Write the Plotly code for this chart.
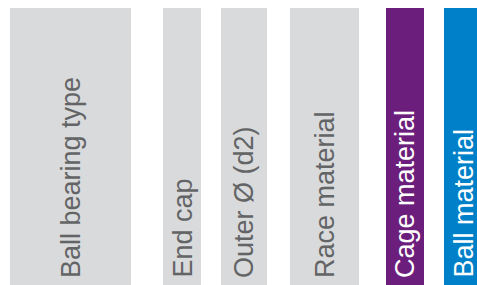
import plotly.graph_objects as go

# ---- data ----
categories = ["Ball bearing type", "End cap", "Outer Ø (d2)", "Race material", "Cage material", "Ball material"]
values = [1, 1, 1, 1, 1, 1]

# ---- layout / style ----
col_left = [10, 163, 221, 290, 386, 444]
col_width = [121, 38, 46, 69, 38, 38]
bar_colors = ["#d9dadb", "#d9dadb", "#d9dadb", "#d9dadb", "#6b1e7b", "#0080c8"]
text_colors = ["#636466", "#636466", "#636466", "#636466", "#ffffff", "#ffffff"]

W, H = 477, 285
top_px = 8

centers = [l + w / 2 for l, w in zip(col_left, col_width)]

fig = go.Figure(
    go.Bar(
        x=centers,
        y=values,
        width=col_width,
        marker=dict(color=bar_colors, line=dict(width=0)),
        hoverinfo="skip",
    )
)

for c, cat, tc in zip(centers, categories, text_colors):
    fig.add_annotation(
        x=c, y=0, xref="x", yref="y",
        text=cat, showarrow=False, textangle=-90,
        xanchor="center", yanchor="bottom", yshift=5,
        font=dict(family="Liberation Sans, Arial, sans-serif", size=27, color=tc),
    )

fig.update_layout(
    width=W, height=H,
    margin=dict(l=0, r=0, t=0, b=0),
    paper_bgcolor="white", plot_bgcolor="white",
    showlegend=False, bargap=0,
    xaxis=dict(range=[0, W], visible=False, fixedrange=True),
    yaxis=dict(range=[0, max(values) * H / (H - top_px)], visible=False, fixedrange=True),
)

fig.write_html(
    "out.html",
    config={"displayModeBar": False},
    post_script="document.body.style.margin='0';document.body.style.overflow='hidden';",
)
